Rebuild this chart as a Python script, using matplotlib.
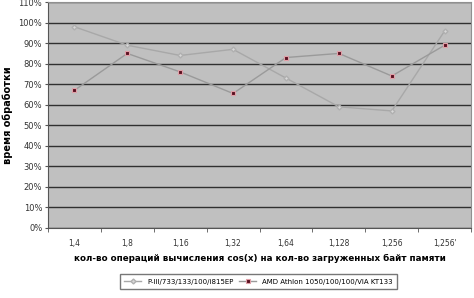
import matplotlib
matplotlib.use("Agg")
import matplotlib.pyplot as plt
import numpy as np

categories = ["1,4", "1,8", "1,16", "1,32", "1,64", "1,128", "1,256", "1,256'"]
p3_values = [98, 89, 84, 87, 73, 59, 57, 96]
amd_values = [67, 85, 76, 65.5, 83, 85, 74, 89]
yticks = list(range(0, 111, 10))

plt.rcParams['font.family'] = ['DejaVu Sans']
fig = plt.figure(figsize=(4.74, 2.98), dpi=100)
ax = fig.add_axes([0.101, 0.235, 0.893, 0.758])
ax.set_facecolor('#c0c0c0')
x = np.arange(len(categories))
ax.plot(x, p3_values, color='#a8a8a8', lw=1.0, marker='D', ms=2.5,
        mfc='#d8d8d8', mec='#b0b0b0', label='P-III/733/133/100/i815EP')
ax.plot(x, amd_values, color='#9a9a9a', lw=1.0, marker='s', ms=3,
        mfc='#5a1020', mec='#e0a0a8', mew=0.8, label='AMD Athlon 1050/100/100/VIA KT133')
ax.set_xlim(-0.5, len(categories) - 0.5)
ax.set_ylim(0, 110)
ax.set_yticks(yticks)
ax.set_yticklabels([f"{v}%" for v in yticks], fontsize=6, color='#333333')
ax.yaxis.grid(True, color='#303030', lw=1.0)
ax.set_axisbelow(True)
ax.set_xticks(x)
ax.set_xticklabels(categories, fontsize=5.5, color='#333333')
ax.set_xticks(np.arange(-0.5, len(categories), 1), minor=True)
ax.tick_params(axis='x', which='major', length=0, pad=8)
ax.tick_params(axis='x', which='minor', length=3, color='#555555')
ax.tick_params(axis='y', length=2, color='#555555', pad=2)
for s in ['top', 'right']:
    ax.spines[s].set_color('#909090')
for s in ['left', 'bottom']:
    ax.spines[s].set_color('#555555')
ax.set_ylabel('время обработки', fontsize=7, fontweight='bold', labelpad=4)
ax.set_xlabel('кол-во операций вычисления cos(x) на кол-во загруженных байт памяти',
              fontsize=6.3, fontweight='bold', labelpad=4)
leg = fig.legend(loc='center', bbox_to_anchor=(0.545, 0.055), ncol=2, fontsize=5,
                 frameon=True, fancybox=False, edgecolor='#555555', handlelength=2.5,
                 columnspacing=0.8, borderpad=0.6)
fig.savefig('out.png', dpi=100)
